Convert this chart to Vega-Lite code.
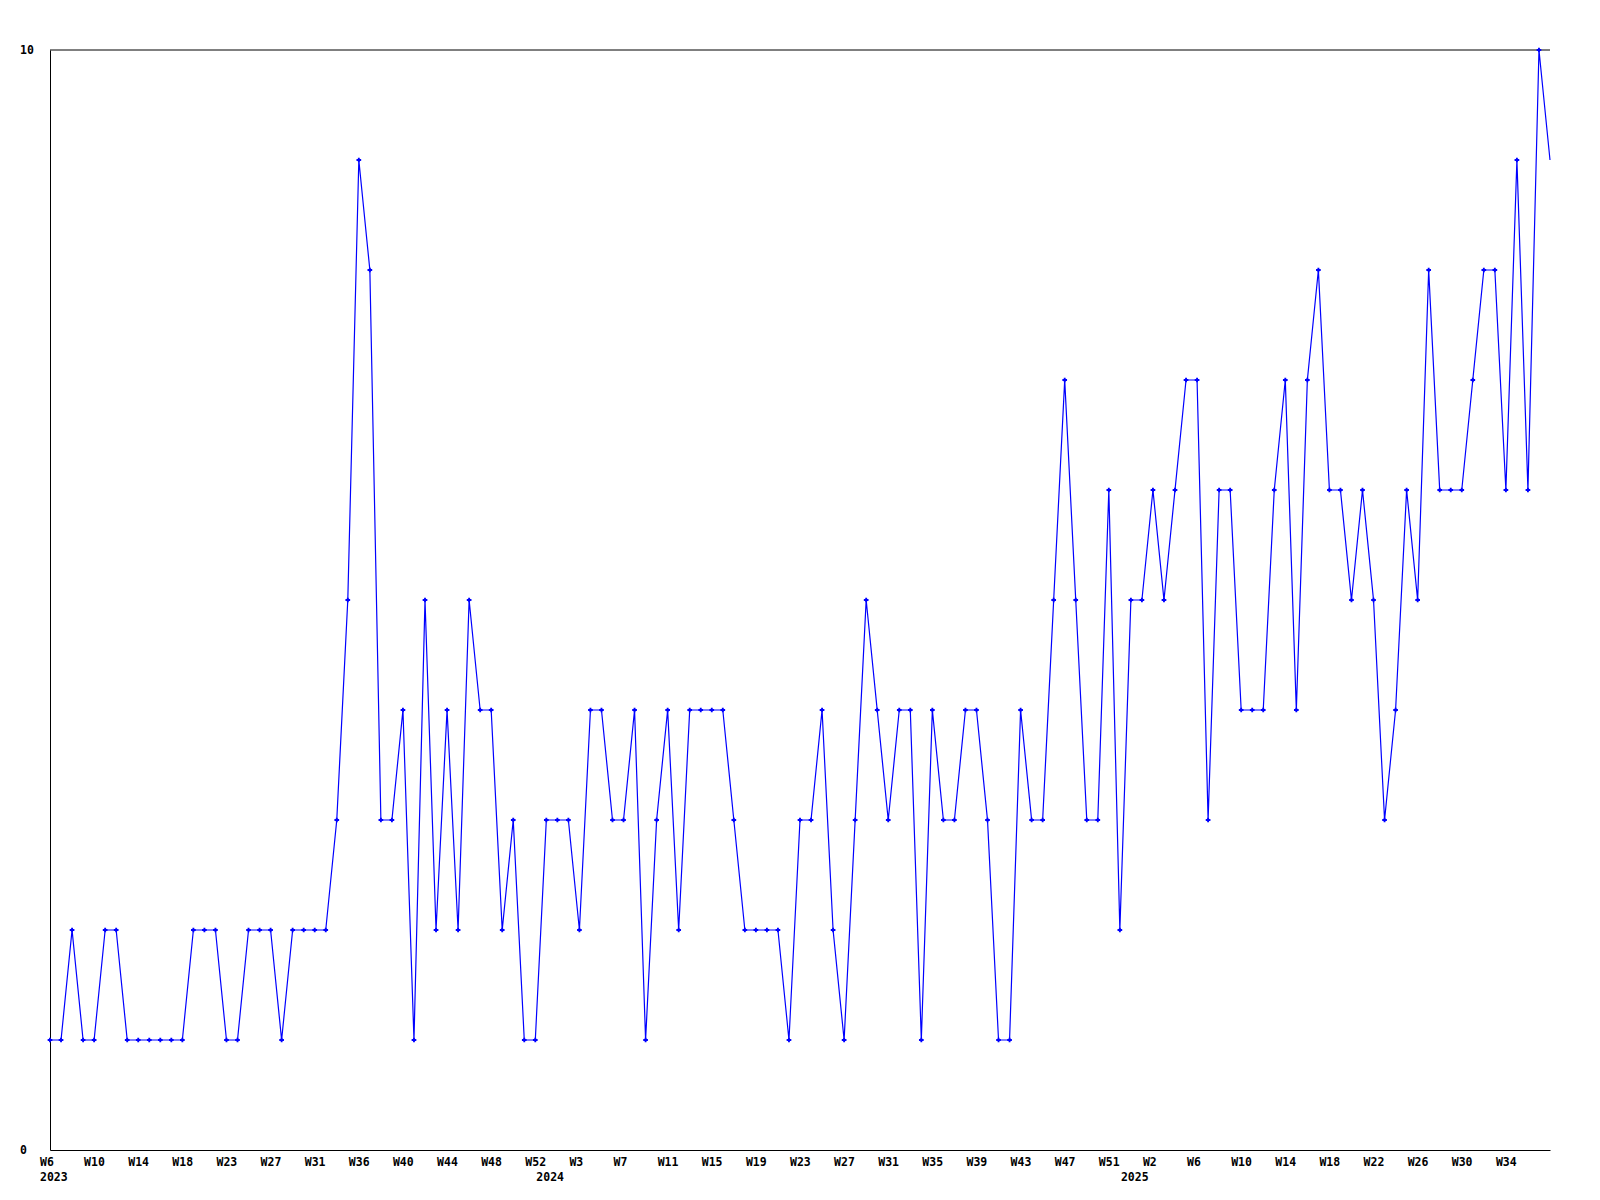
{
  "$schema": "https://vega.github.io/schema/vega-lite/v6.json",
  "width": 1500,
  "height": 1100,
  "autosize": {"type": "none"},
  "padding": {"left": 50, "top": 50, "right": 50, "bottom": 50},
  "background": "white",
  "config": {
    "view": {"stroke": null},
    "axis": {
      "labelFont": "DejaVu Sans Mono",
      "labelFontWeight": "bold",
      "labelFontSize": 11.5,
      "labelColor": "#000000",
      "domainColor": "#000000",
      "domainWidth": 1,
      "grid": false,
      "ticks": false,
      "tickSize": 0,
      "title": null
    }
  },
  "data": {
    "values": [
      {"week": "2023-W6", "value": 1}, {"week": "2023-W7", "value": 1}, {"week": "2023-W8", "value": 2}, {"week": "2023-W9", "value": 1},
      {"week": "2023-W10", "value": 1}, {"week": "2023-W11", "value": 2}, {"week": "2023-W12", "value": 2}, {"week": "2023-W13", "value": 1},
      {"week": "2023-W14", "value": 1}, {"week": "2023-W15", "value": 1}, {"week": "2023-W16", "value": 1}, {"week": "2023-W17", "value": 1},
      {"week": "2023-W18", "value": 1}, {"week": "2023-W19", "value": 2}, {"week": "2023-W20", "value": 2}, {"week": "2023-W21", "value": 2},
      {"week": "2023-W23", "value": 1}, {"week": "2023-W24", "value": 1}, {"week": "2023-W25", "value": 2}, {"week": "2023-W26", "value": 2},
      {"week": "2023-W27", "value": 2}, {"week": "2023-W28", "value": 1}, {"week": "2023-W29", "value": 2}, {"week": "2023-W30", "value": 2},
      {"week": "2023-W31", "value": 2}, {"week": "2023-W32", "value": 2}, {"week": "2023-W33", "value": 3}, {"week": "2023-W34", "value": 5},
      {"week": "2023-W36", "value": 9}, {"week": "2023-W37", "value": 8}, {"week": "2023-W38", "value": 3}, {"week": "2023-W39", "value": 3},
      {"week": "2023-W40", "value": 4}, {"week": "2023-W41", "value": 1}, {"week": "2023-W42", "value": 5}, {"week": "2023-W43", "value": 2},
      {"week": "2023-W44", "value": 4}, {"week": "2023-W45", "value": 2}, {"week": "2023-W46", "value": 5}, {"week": "2023-W47", "value": 4},
      {"week": "2023-W48", "value": 4}, {"week": "2023-W49", "value": 2}, {"week": "2023-W50", "value": 3}, {"week": "2023-W51", "value": 1},
      {"week": "2023-W52", "value": 1},
      {"week": "2024-W0", "value": 3}, {"week": "2024-W1", "value": 3}, {"week": "2024-W2", "value": 3}, {"week": "2024-W3", "value": 2},
      {"week": "2024-W4", "value": 4}, {"week": "2024-W5", "value": 4}, {"week": "2024-W6", "value": 3}, {"week": "2024-W7", "value": 3},
      {"week": "2024-W8", "value": 4}, {"week": "2024-W9", "value": 1}, {"week": "2024-W10", "value": 3}, {"week": "2024-W11", "value": 4},
      {"week": "2024-W12", "value": 2}, {"week": "2024-W13", "value": 4}, {"week": "2024-W14", "value": 4}, {"week": "2024-W15", "value": 4},
      {"week": "2024-W16", "value": 4}, {"week": "2024-W17", "value": 3}, {"week": "2024-W18", "value": 2}, {"week": "2024-W19", "value": 2},
      {"week": "2024-W20", "value": 2}, {"week": "2024-W21", "value": 2}, {"week": "2024-W22", "value": 1}, {"week": "2024-W23", "value": 3},
      {"week": "2024-W24", "value": 3}, {"week": "2024-W25", "value": 4}, {"week": "2024-W26", "value": 2}, {"week": "2024-W27", "value": 1},
      {"week": "2024-W28", "value": 3}, {"week": "2024-W29", "value": 5}, {"week": "2024-W30", "value": 4}, {"week": "2024-W31", "value": 3},
      {"week": "2024-W32", "value": 4}, {"week": "2024-W33", "value": 4}, {"week": "2024-W34", "value": 1}, {"week": "2024-W35", "value": 4},
      {"week": "2024-W36", "value": 3}, {"week": "2024-W37", "value": 3}, {"week": "2024-W38", "value": 4}, {"week": "2024-W39", "value": 4},
      {"week": "2024-W40", "value": 3}, {"week": "2024-W41", "value": 1}, {"week": "2024-W42", "value": 1}, {"week": "2024-W43", "value": 4},
      {"week": "2024-W44", "value": 3}, {"week": "2024-W45", "value": 3}, {"week": "2024-W46", "value": 5}, {"week": "2024-W47", "value": 7},
      {"week": "2024-W48", "value": 5}, {"week": "2024-W49", "value": 3}, {"week": "2024-W50", "value": 3}, {"week": "2024-W51", "value": 6},
      {"week": "2024-W52", "value": 2},
      {"week": "2025-W0", "value": 5}, {"week": "2025-W1", "value": 5}, {"week": "2025-W2", "value": 6}, {"week": "2025-W3", "value": 5},
      {"week": "2025-W4", "value": 6}, {"week": "2025-W5", "value": 7}, {"week": "2025-W6", "value": 7}, {"week": "2025-W7", "value": 3},
      {"week": "2025-W8", "value": 6}, {"week": "2025-W9", "value": 6}, {"week": "2025-W10", "value": 4}, {"week": "2025-W11", "value": 4},
      {"week": "2025-W12", "value": 4}, {"week": "2025-W13", "value": 6}, {"week": "2025-W14", "value": 7}, {"week": "2025-W15", "value": 4},
      {"week": "2025-W16", "value": 7}, {"week": "2025-W17", "value": 8}, {"week": "2025-W18", "value": 6}, {"week": "2025-W19", "value": 6},
      {"week": "2025-W20", "value": 5}, {"week": "2025-W21", "value": 6}, {"week": "2025-W22", "value": 5}, {"week": "2025-W23", "value": 3},
      {"week": "2025-W24", "value": 4}, {"week": "2025-W25", "value": 6}, {"week": "2025-W26", "value": 5}, {"week": "2025-W27", "value": 8},
      {"week": "2025-W28", "value": 6}, {"week": "2025-W29", "value": 6}, {"week": "2025-W30", "value": 6}, {"week": "2025-W31", "value": 7},
      {"week": "2025-W32", "value": 8}, {"week": "2025-W33", "value": 8}, {"week": "2025-W34", "value": 6}, {"week": "2025-W35", "value": 9},
      {"week": "2025-W36", "value": 6}, {"week": "2025-W37", "value": 10}, {"week": "2025-W38", "value": 9}
    ]
  },
  "layer": [
    {
      "data": {"values": [{}]},
      "mark": {"type": "rule", "color": "#000000", "strokeWidth": 1},
      "encoding": {
        "y": {"datum": 10, "type": "quantitative", "scale": {"domain": [0, 10], "nice": false}}
      }
    },
    {
      "mark": {"type": "line", "color": "#0000ff", "strokeWidth": 1.2},
      "encoding": {
        "x": {
          "field": "week",
          "type": "ordinal",
          "sort": null,
          "scale": {"type": "point", "padding": 0},
          "title": null,
          "axis": {
            "values": ["2023-W6", "2023-W10", "2023-W14", "2023-W18", "2023-W23", "2023-W27", "2023-W31", "2023-W36", "2023-W40", "2023-W44", "2023-W48", "2023-W52", "2024-W0", "2024-W3", "2024-W7", "2024-W11", "2024-W15", "2024-W19", "2024-W23", "2024-W27", "2024-W31", "2024-W35", "2024-W39", "2024-W43", "2024-W47", "2024-W51", "2025-W0", "2025-W2", "2025-W6", "2025-W10", "2025-W14", "2025-W18", "2025-W22", "2025-W26", "2025-W30", "2025-W34"],
            "labelExpr": "indexof(['2023-W6','2024-W0','2025-W0'], datum.value) >= 0 ? [datum.value == '2023-W6' ? 'W6' : '', slice(datum.value, 0, 4)] : slice(datum.value, 5)",
            "labelAlign": "left",
            "labelOffset": -10.5,
            "labelBaseline": "top",
            "labelPadding": 6,
            "labelAngle": 0,
            "labelOverlap": false,
            "labelBound": false,
            "labelFlush": false,
            "labelLineHeight": 15
          }
        },
        "y": {
          "field": "value",
          "type": "quantitative",
          "scale": {"domain": [0, 10], "nice": false},
          "title": null,
          "axis": {
            "values": [0, 10],
            "format": "d",
            "labelAlign": "left",
            "labelPadding": 30.5,
            "labelBaseline": "middle",
            "labelFlush": false
          }
        }
      }
    },
    {
      "transform": [{"filter": "datum.week != '2025-W38'"}],
      "mark": {"type": "point", "shape": "cross", "filled": true, "size": 22, "color": "#0000ff", "opacity": 1},
      "encoding": {
        "x": {"field": "week", "type": "ordinal", "sort": null, "scale": {"type": "point", "padding": 0}, "title": null},
        "y": {"field": "value", "type": "quantitative", "scale": {"domain": [0, 10], "nice": false}, "title": null}
      }
    }
  ]
}
